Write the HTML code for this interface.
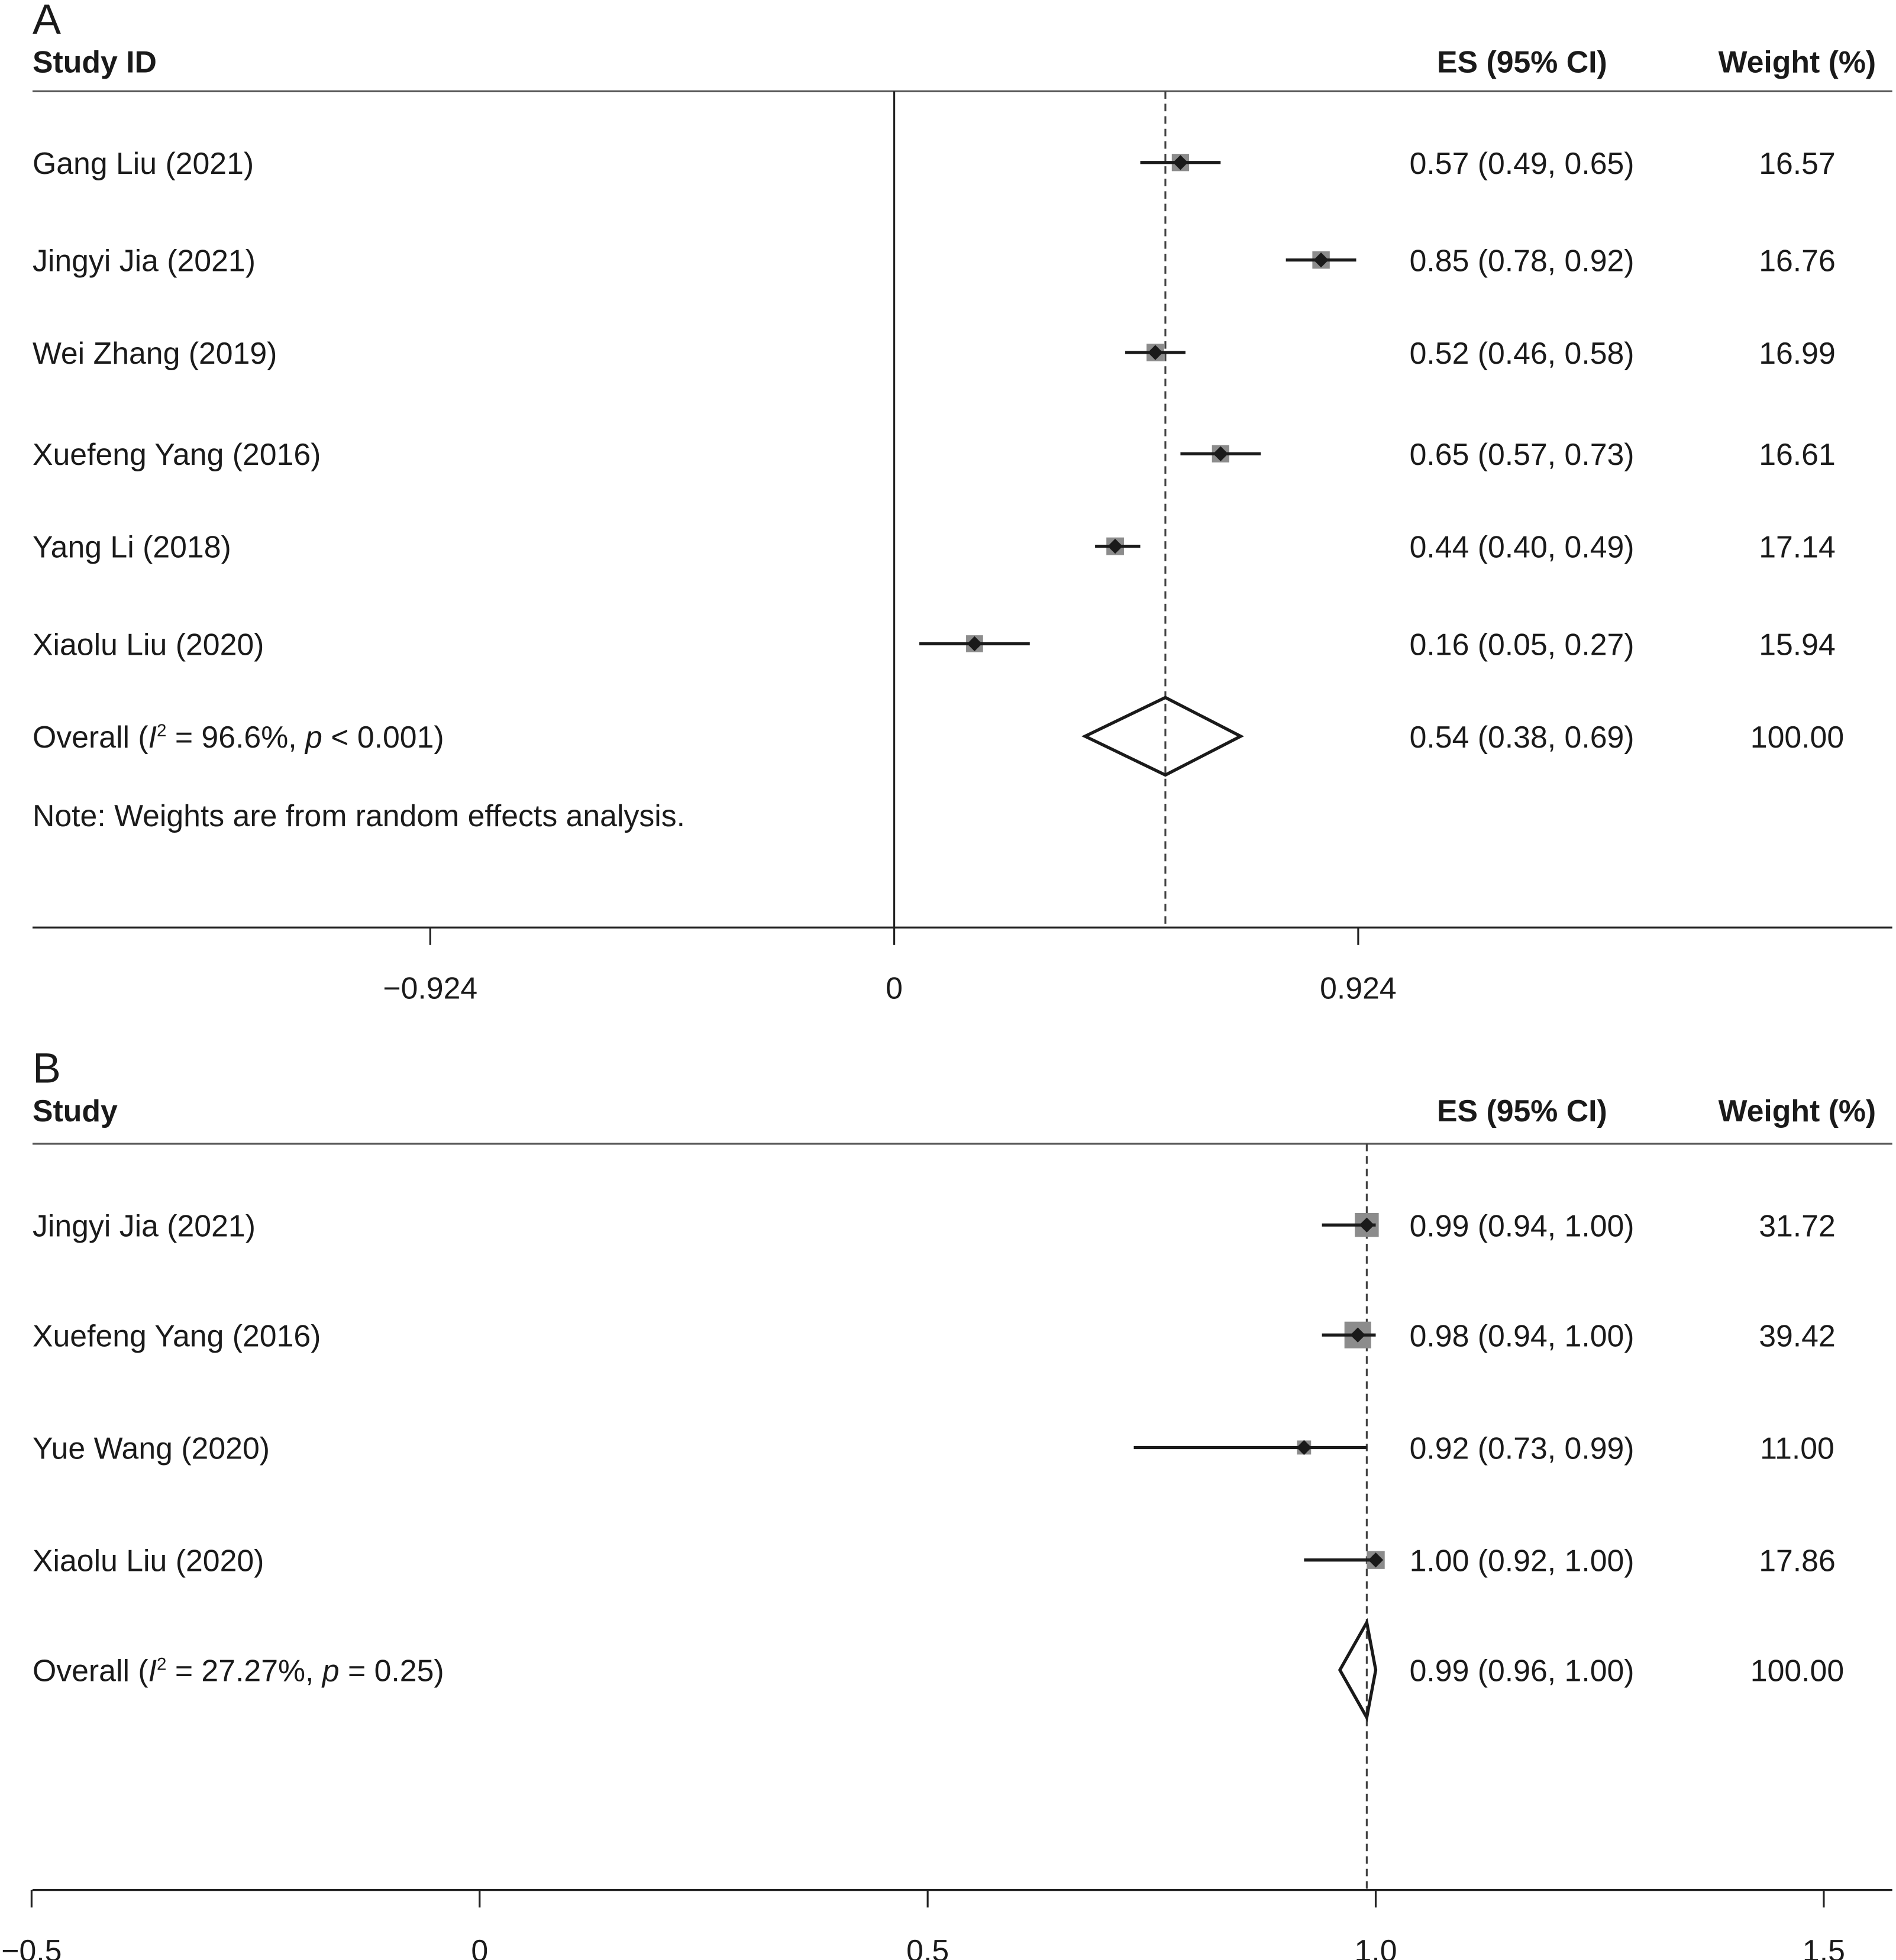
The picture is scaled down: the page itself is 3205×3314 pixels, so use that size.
<!DOCTYPE html>
<html><head><meta charset="utf-8"><style>
html,body{margin:0;padding:0;background:#fff;}
svg{display:block;}
text{font-family:"Liberation Sans",sans-serif;fill:#1a1a1a;}
</style></head><body>
<svg id="chart" width="3205" height="3314" viewBox="0 0 1516 1568" preserveAspectRatio="none" xmlns="http://www.w3.org/2000/svg"></svg>
<script>
// Panel A data
const aStudies = ["Gang Liu (2021)","Jingyi Jia (2021)","Wei Zhang (2019)","Xuefeng Yang (2016)","Yang Li (2018)","Xiaolu Liu (2020)"];
const aES = [0.57,0.85,0.52,0.65,0.44,0.16];
const aLo = [0.49,0.78,0.46,0.57,0.40,0.05];
const aHi = [0.65,0.92,0.58,0.73,0.49,0.27];
const aW = [16.57,16.76,16.99,16.61,17.14,15.94];
const aOverall = [0.54,0.38,0.69];
const aTicks = [-0.924,0,0.924];
const aTickLabels = ["\u22120.924","0","0.924"];
// Panel B data
const bStudies = ["Jingyi Jia (2021)","Xuefeng Yang (2016)","Yue Wang (2020)","Xiaolu Liu (2020)"];
const bES = [0.99,0.98,0.92,1.00];
const bLo = [0.94,0.94,0.73,0.92];
const bHi = [1.00,1.00,0.99,1.00];
const bW = [31.72,39.42,11.00,17.86];
const bOverall = [0.99,0.96,1.00];
const bTicks = [-0.5,0,0.5,1.0,1.5];
const bTickLabels = ["\u22120.5","0","0.5","1.0","1.5"];

const svg = document.getElementById('chart');
const NS = "http://www.w3.org/2000/svg";
function el(tag, attrs, parent){
  const e = document.createElementNS(NS, tag);
  for (const k in attrs) e.setAttribute(k, attrs[k]);
  (parent||svg).appendChild(e);
  return e;
}
function txt(s, x, y, opts, name){
  const t = el('text', {x:x, y:y, 'font-size':(opts.size||24.5), 'text-anchor':(opts.anchor||'start')});
  if (opts.bold) t.setAttribute('font-weight','bold');
  t.textContent = s;
  
  
  return t;
}
function fmt(v){return v.toFixed(2);}

function panel(cfg){
  const x = v => cfg.x0 + v*cfg.scale;
  txt(cfg.letter, 26, cfg.letterY, {size:34}, 'panel-label-'+cfg.id);
  txt(cfg.head, 26, cfg.headY, {bold:true}, 'study-column-header-'+cfg.id);
  txt("ES (95% CI)", 1217, cfg.headY, {bold:true, anchor:'middle'}, 'es-column-header-'+cfg.id);
  txt("Weight (%)", 1500, cfg.headY, {bold:true, anchor:'end'}, 'weight-column-header-'+cfg.id);
  let l = el('line', {x1:26, x2:1513, y1:cfg.lineY, y2:cfg.lineY, stroke:'#555', 'stroke-width':1.5});
  
  
  l = el('line', {x1:26, x2:1513, y1:cfg.axisY, y2:cfg.axisY, stroke:'#222', 'stroke-width':1.5});
  
  
  cfg.ticks.forEach((t,i)=>{
    const tl = el('line', {x1:x(t), x2:x(t), y1:cfg.axisY, y2:cfg.axisY+14, stroke:'#222', 'stroke-width':1.5});
    
    
    txt(cfg.tickLabels[i], x(t), cfg.axisY+57, {anchor:'middle'}, 'x-tick-label-'+cfg.id);
  });
  if (cfg.zeroLine){
    const z = el('line', {x1:x(0), x2:x(0), y1:cfg.lineY, y2:cfg.axisY, stroke:'#222', 'stroke-width':1.5});
    
    
  }
  const d = el('line', {x1:x(cfg.overall[0]), x2:x(cfg.overall[0]), y1:cfg.lineY, y2:cfg.axisY, stroke:'#444', 'stroke-width':1.5, 'stroke-dasharray':'6,4'});
  
  
  cfg.studies.forEach((s,i)=>{
    const y = cfg.rows[i];
    txt(s, 26, y+9, {}, 'study-label');
    txt(fmt(cfg.es[i])+" ("+fmt(cfg.lo[i])+", "+fmt(cfg.hi[i])+")", 1127, y+9, {}, 'es-value');
    txt(cfg.w[i].toFixed(2), 1437, y+9, {anchor:'middle'}, 'weight-value');
    const sz = 3.4*Math.sqrt(cfg.w[i]);
    const sq = el('rect', {x:x(cfg.es[i])-sz/2, y:y-sz/2, width:sz, height:sz, fill:'#8c8c8c'});
    
    
    const ci = el('line', {x1:x(cfg.lo[i]), x2:x(cfg.hi[i]), y1:y, y2:y, stroke:'#1a1a1a', 'stroke-width':2.5});
    
    
    const cx = x(cfg.es[i]);
    const dm = el('polygon', {points:`${cx-6},${y} ${cx},${y-6} ${cx+6},${y} ${cx},${y+6}`, fill:'#1a1a1a'});
    
    
  });
  const oy = cfg.overallY, o = cfg.overall;
  const od = el('polygon', {points:`${x(o[1])},${oy} ${x(o[0])},${oy-cfg.dh} ${x(o[2])},${oy} ${x(o[0])},${oy+cfg.dh}`, fill:'none', stroke:'#1a1a1a', 'stroke-width':2.5});
  
  
  const ot = el('text', {x:26, y:oy+9, 'font-size':24.5});
  
  
  ot.innerHTML = cfg.overallLabel;
  txt(fmt(o[0])+" ("+fmt(o[1])+", "+fmt(o[2])+")", 1127, oy+9, {}, 'overall-es-value-'+cfg.id);
  txt("100.00", 1437, oy+9, {anchor:'middle'}, 'overall-weight-value-'+cfg.id);
}

panel({id:'a', letter:'A', letterY:27, head:'Study ID', headY:58, lineY:73, axisY:742,
  x0:715, scale:401.5, ticks:aTicks, tickLabels:aTickLabels, zeroLine:true,
  studies:aStudies, es:aES, lo:aLo, hi:aHi, w:aW, rows:[130,208,282,363,437,515],
  overall:aOverall, overallY:589, dh:31,
  overallLabel:'Overall (<tspan font-style="italic">I</tspan><tspan font-size="14" dy="-9">2</tspan><tspan dy="9"> = 96.6%, </tspan><tspan font-style="italic">p</tspan> &lt; 0.001)'});
txt("Note: Weights are from random effects analysis.", 26, 661, {}, 'weights-note');

panel({id:'b', letter:'B', letterY:866, head:'Study', headY:897, lineY:915, axisY:1512,
  x0:383.5, scale:716.5, ticks:bTicks, tickLabels:bTickLabels, zeroLine:false,
  studies:bStudies, es:bES, lo:bLo, hi:bHi, w:bW, rows:[980,1068,1158,1248],
  overall:bOverall, overallY:1336, dh:38,
  overallLabel:'Overall (<tspan font-style="italic">I</tspan><tspan font-size="14" dy="-9">2</tspan><tspan dy="9"> = 27.27%, </tspan><tspan font-style="italic">p</tspan> = 0.25)'});
</script>
</body></html>
